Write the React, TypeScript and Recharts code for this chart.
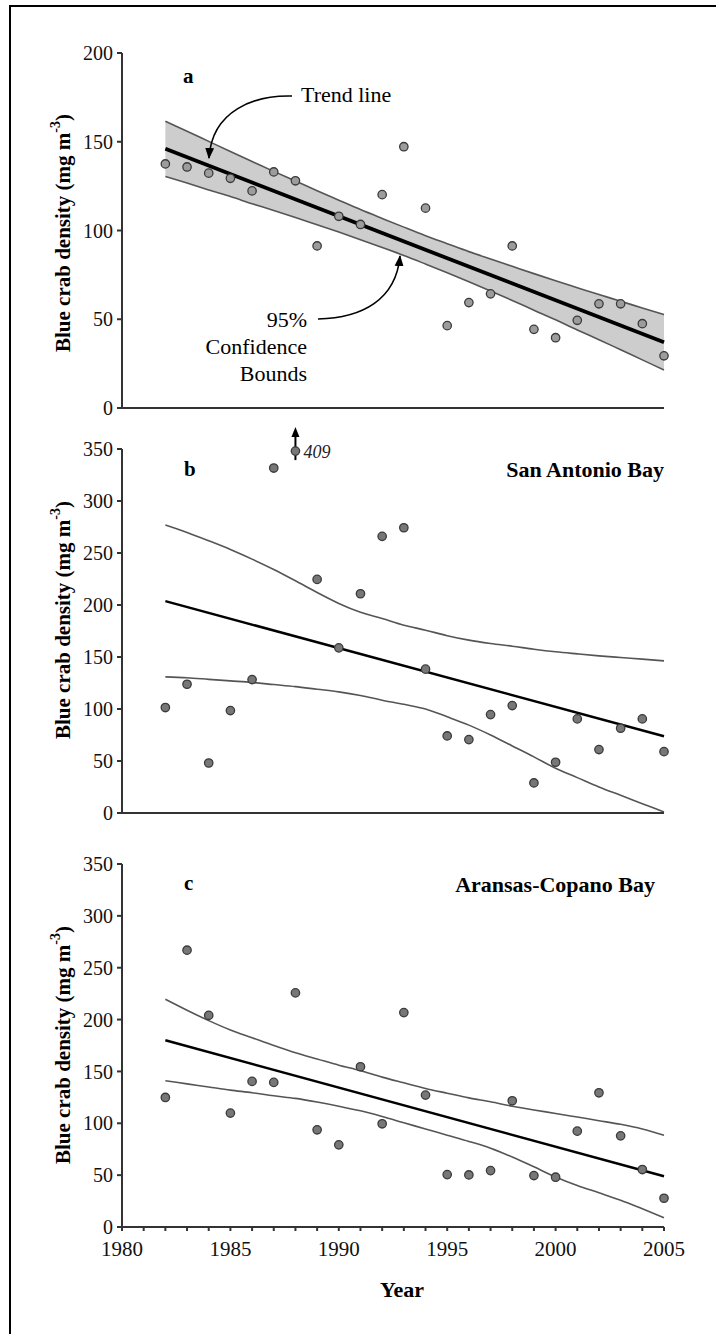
import React from 'react';
import { ComposedChart, Line, Area, Scatter, XAxis, YAxis } from 'recharts';

const FONT = "'Liberation Serif', 'Tinos', 'Noto Serif', 'DejaVu Serif', serif";

// survey years and axis ticks
const years = [1982, 1983, 1984, 1985, 1986, 1987, 1988, 1989, 1990, 1991, 1992, 1993, 1994, 1995, 1996, 1997, 1998, 1999, 2000, 2001, 2002, 2003, 2004, 2005];
const axisYears = [1980, 1981, 1982, 1983, 1984, 1985, 1986, 1987, 1988, 1989, 1990, 1991, 1992, 1993, 1994, 1995, 1996, 1997, 1998, 1999, 2000, 2001, 2002, 2003, 2004, 2005];
const labelledYears = [1980, 1985, 1990, 1995, 2000, 2005];
const ticksA = [0, 50, 100, 150, 200];
const ticksBC = [0, 50, 100, 150, 200, 250, 300, 350];
const trendYears = [1982, 2005];

// panel a - all bays
const aPoints = [137.5, 135.8, 132.3, 129.4, 122.3, 133, 128, 91.3, 108, 103.4, 120.2, 147.2, 112.6, 46.4, 59.4, 64.3, 91.3, 44.3, 39.6, 49.4, 58.7, 58.7, 47.5, 29.4];
const aTrend = [146, 37];
const aUpper = [161.6, 155.9, 150.2, 144.5, 138.9, 133.3, 127.9, 122.4, 117.1, 111.8, 106.8, 101.9, 97.1, 92.6, 88.1, 83.9, 79.8, 75.7, 71.7, 67.8, 63.9, 60.2, 56.3, 52.6];
const aLower = [130.4, 126.7, 122.8, 119.1, 115.1, 111.3, 107.3, 103.2, 99.1, 94.8, 90.4, 85.9, 81.1, 76.2, 71.1, 65.9, 60.6, 55.1, 49.7, 44.0, 38.5, 32.8, 27.1, 21.4];

// panel b - San Antonio Bay
const bPoints = [101.4, 123.8, 48.1, 98.5, 128.3, 331.7, 409, 224.6, 158.8, 210.8, 266, 274.3, 138.3, 74.1, 70.6, 94.6, 103.3, 28.9, 48.8, 90.5, 61, 81.5, 90.5, 59];
const bTrend = [203.7, 73.8];
const bUpper = [276.9, 269.8, 261.8, 253.4, 244.1, 234.2, 223.3, 212, 201.5, 193, 187, 180.6, 175.8, 170.5, 166.2, 163, 160.4, 157.5, 155, 153, 151.1, 149.5, 148, 146.3];
const bLower = [130.9, 130, 128.5, 127, 125.5, 123.5, 121.5, 119, 116.5, 113, 108.5, 104.5, 100, 92.5, 84.5, 75, 64.5, 54, 43, 34, 25, 17, 9, 1];
const offScaleAt = 348; // where points above the axis top are drawn

// panel c - Aransas-Copano Bay
const cPoints = [124.9, 266.9, 204.1, 109.8, 140.4, 139.4, 225.7, 93.7, 79.2, 154.5, 99.5, 206.7, 127.2, 50.5, 50.2, 54.4, 121.7, 49.6, 48, 92.4, 129.4, 87.9, 55.4, 27.7];
const cTrend = [180, 48.9];
const cUpper = [219.6, 209, 199, 190, 182.5, 175, 168, 162, 156, 150.7, 144.5, 139, 133.6, 129, 124.5, 120.7, 116.5, 112.8, 109.5, 106, 102.5, 99, 94.5, 88.5];
const cLower = [141, 138, 135, 132, 129.5, 126.5, 124, 120.5, 116.5, 112, 106.5, 100.5, 94.5, 88.5, 82.5, 76, 67.5, 58, 48.3, 40, 33, 25.8, 17.5, 9];

const toSeries = (xs: number[], vs: number[]) => xs.map((year, i) => ({ year, value: vs[i] }));

function Dot(props: any) {
  const { cx, cy, payload, fill } = props;
  if (cx == null || cy == null) return null;
  const off = payload.raw > payload.value;
  return (
    <g>
      {off && (
        <g>
          <line x1={cx} y1={cy + 9} x2={cx} y2={cy - 16} stroke="#000" strokeWidth={2} />
          <path d={`M${cx - 4},${cy - 14} L${cx},${cy - 24} L${cx + 4},${cy - 14} Z`} fill="#000" />
          <text x={cx + 8} y={cy + 7} fontFamily={FONT} fontStyle="italic" fontSize={18} fill="#222">
            {payload.raw}
          </text>
        </g>
      )}
      <circle cx={cx} cy={cy} r={4.2} fill={fill} stroke="#3a3a3a" strokeWidth={1.3} />
    </g>
  );
}

interface PanelProps {
  top: number;
  height: number;
  marginTop: number;
  xAxisHeight: number;
  yMax: number;
  yTicks: number[];
  points: number[];
  trend: number[];
  upper: number[];
  lower: number[];
  band?: boolean;
  dotFill: string;
  trendWidth: number;
  yearLabels?: boolean;
}

function Panel(p: PanelProps) {
  const scatterData = years.map((year, i) => ({
    year,
    value: p.points[i] > p.yMax ? offScaleAt : p.points[i],
    raw: p.points[i],
  }));
  const bandData = p.band ? years.map((year, i) => ({ year, range: [p.lower[i], p.upper[i]] })) : [];
  return (
    <div style={{ position: 'absolute', left: 0, top: p.top }}>
      <ComposedChart width={716} height={p.height} margin={{ top: p.marginTop, right: 52, bottom: 0, left: 0 }}>
        <XAxis
          type="number"
          dataKey="year"
          domain={[1980, 2005]}
          ticks={axisYears}
          interval={0}
          height={p.xAxisHeight}
          stroke="#333"
          strokeWidth={2}
          tickSize={4}
          tickMargin={10}
          tick={p.yearLabels ? { fontFamily: FONT, fontSize: 21, fill: '#111' } : false}
          tickFormatter={(v: number) => (labelledYears.includes(v) ? String(v) : '')}
        />
        <YAxis
          type="number"
          domain={[0, p.yMax]}
          ticks={p.yTicks}
          interval={0}
          width={122}
          stroke="#333"
          strokeWidth={2}
          tickSize={5}
          tickMargin={4}
          tick={{ fontFamily: FONT, fontSize: 20, fill: '#111' }}
        />
        {p.band && (
          <Area
            data={bandData}
            dataKey="range"
            type="monotone"
            fill="#cdcdcd"
            fillOpacity={1}
            stroke="none"
            isAnimationActive={false}
          />
        )}
        <Line data={toSeries(years, p.upper)} dataKey="value" type="monotone" stroke="#555" strokeWidth={1.6} dot={false} isAnimationActive={false} />
        <Line data={toSeries(years, p.lower)} dataKey="value" type="monotone" stroke="#555" strokeWidth={1.6} dot={false} isAnimationActive={false} />
        <Line data={toSeries(trendYears, p.trend)} dataKey="value" type="linear" stroke="#000" strokeWidth={p.trendWidth} dot={false} isAnimationActive={false} />
        <Scatter data={scatterData} dataKey="value" fill={p.dotFill} shape={<Dot fill={p.dotFill} />} isAnimationActive={false} />
      </ComposedChart>
    </div>
  );
}

function YLabel({ cy }: { cy: number }) {
  return (
    <text
      transform={`translate(63,${cy}) rotate(-90)`}
      textAnchor="middle"
      dominantBaseline="central"
      fontFamily={FONT}
      fontWeight="bold"
      fontSize={21}
      fill="#000"
    >
      Blue crab density (mg m<tspan dy={-8} fontSize={14}>-3</tspan><tspan dy={8}>)</tspan>
    </text>
  );
}

export default function App() {
  return (
    <div style={{ position: 'absolute', left: 0, top: 0, width: 716, height: 1334, background: '#fff', fontFamily: FONT }}>
      <Panel
        top={0}
        height={428}
        marginTop={53}
        xAxisHeight={20}
        yMax={200}
        yTicks={ticksA}
        points={aPoints}
        trend={aTrend}
        upper={aUpper}
        lower={aLower}
        band
        dotFill="#9c9c9c"
        trendWidth={3.8}
      />
      <Panel
        top={408}
        height={425}
        marginTop={41}
        xAxisHeight={20}
        yMax={350}
        yTicks={ticksBC}
        points={bPoints}
        trend={bTrend}
        upper={bUpper}
        lower={bLower}
        dotFill="#777"
        trendWidth={2.5}
      />
      <Panel
        top={830}
        height={437}
        marginTop={34}
        xAxisHeight={40}
        yMax={350}
        yTicks={ticksBC}
        points={cPoints}
        trend={cTrend}
        upper={cUpper}
        lower={cLower}
        dotFill="#777"
        trendWidth={2.5}
        yearLabels
      />
      <svg width={716} height={1334} style={{ position: 'absolute', left: 0, top: 0, pointerEvents: 'none' }}>
        <defs>
          <marker id="head" viewBox="0 0 10 10" refX="9" refY="5" markerWidth="7" markerHeight="7" orient="auto">
            <path d="M0,1 L10,5 L0,9 Z" fill="#000" />
          </marker>
        </defs>
        <path d="M10,1334 V6 H716" stroke="#000" strokeWidth={2} fill="none" />

        <YLabel cy={233} />
        <YLabel cy={620} />
        <YLabel cy={1045} />

        <text x={183} y={83} fontFamily={FONT} fontWeight="bold" fontSize={21}>a</text>
        <text x={301} y={102} fontFamily={FONT} fontSize={22}>Trend line</text>
        <path d="M292,96 C255,95 212,110 209,158" stroke="#000" strokeWidth={1.6} fill="none" markerEnd="url(#head)" />
        <text x={307} y={327} textAnchor="end" fontFamily={FONT} fontSize={22}>95%</text>
        <text x={307} y={354} textAnchor="end" fontFamily={FONT} fontSize={22}>Confidence</text>
        <text x={307} y={381} textAnchor="end" fontFamily={FONT} fontSize={22}>Bounds</text>
        <path d="M318,319 C362,318 396,300 400,256" stroke="#000" strokeWidth={1.6} fill="none" markerEnd="url(#head)" />

        <text x={184} y={476} fontFamily={FONT} fontWeight="bold" fontSize={21}>b</text>
        <text x={664} y={477} textAnchor="end" fontFamily={FONT} fontWeight="bold" fontSize={22}>San Antonio Bay</text>

        <text x={184} y={890} fontFamily={FONT} fontWeight="bold" fontSize={21}>c</text>
        <text x={655} y={892} textAnchor="end" fontFamily={FONT} fontWeight="bold" fontSize={22}>Aransas-Copano Bay</text>

        <text x={402} y={1297} textAnchor="middle" fontFamily={FONT} fontWeight="bold" fontSize={22}>Year</text>
      </svg>
    </div>
  );
}
